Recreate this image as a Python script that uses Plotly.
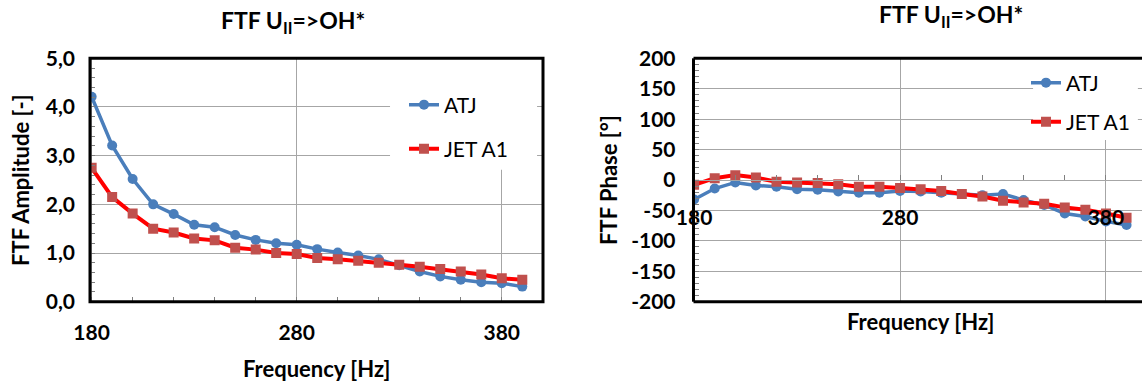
import plotly.graph_objects as go

# ---------------- data ----------------
freq = [180, 190, 200, 210, 220, 230, 240, 250, 260, 270, 280,
        290, 300, 310, 320, 330, 340, 350, 360, 370, 380, 390]
atj_amp = [4.21, 3.21, 2.52, 2.00, 1.80, 1.58, 1.53, 1.37, 1.27, 1.20, 1.17,
           1.08, 1.01, 0.95, 0.87, 0.75, 0.62, 0.52, 0.45, 0.40, 0.38, 0.31]
jet_amp = [2.75, 2.15, 1.81, 1.50, 1.42, 1.30, 1.26, 1.11, 1.07, 1.00, 0.98,
           0.90, 0.87, 0.84, 0.80, 0.76, 0.72, 0.67, 0.62, 0.56, 0.48, 0.45]
atj_phase = [-32, -14, -4, -9, -11, -15, -16, -19, -21, -21, -18,
             -19, -21, -23, -25, -23, -33, -41, -55, -60, -68, -74]
jet_phase = [-8, 3, 8, 4, -3, -4, -5, -7, -11, -11, -13,
             -15, -18, -23, -27, -34, -37, -39, -45, -49, -55, -62]

freq_ticks = [180, 280, 380]
freq_ticktext = ["180", "280", "380"]
amp_ticks = [0, 1, 2, 3, 4, 5]
amp_ticktext = ["0,0", "1,0", "2,0", "3,0", "4,0", "5,0"]
phase_ticks = [-200, -150, -100, -50, 0, 50, 100, 150, 200]
phase_ticktext = ["-200", "-150", "-100", "-50", "0", "50", "100", "150", "200"]

series_names = ["ATJ", "JET A1"]
title_text = "FTF U<sub>II</sub>=>OH*"

# ---------------- layout helpers ----------------
W, H = 1142, 383
def px(x):
    return x / W
def py(y):
    return 1 - y / H

FONT = "Lato"
BLUE = "#4a7ebb"
RED_LINE = "#ff0000"
RED_MARK = "#c0504d"
GRID = "#a6a6a6"
TICKC = "#808080"

fig = go.Figure()

def add_series(xa, ya, yvals, name, legend, is_atj):
    if is_atj:
        fig.add_trace(go.Scatter(
            x=freq, y=yvals, name=name, mode="lines+markers",
            xaxis=xa, yaxis=ya, legend=legend,
            line=dict(color=BLUE, width=3.5),
            marker=dict(symbol="circle", size=10, color=BLUE)))
    else:
        fig.add_trace(go.Scatter(
            x=freq, y=yvals, name=name, mode="lines+markers",
            xaxis=xa, yaxis=ya, legend=legend,
            line=dict(color=RED_LINE, width=4),
            marker=dict(symbol="square", size=10, color=RED_MARK)))

add_series("x", "y", atj_amp, series_names[0], "legend", True)
add_series("x", "y", jet_amp, series_names[1], "legend2", False)
add_series("x2", "y2", atj_phase, series_names[0], "legend3", True)
add_series("x2", "y2", jet_phase, series_names[1], "legend4", False)

tickfont = dict(family=FONT, size=21, color="black", weight="bold")

common_x = dict(
    tickmode="array", tickvals=freq_ticks, ticktext=freq_ticktext,
    showgrid=True, gridcolor=GRID, gridwidth=1, zeroline=False,
    ticks="inside", ticklen=5, tickcolor=TICKC, tickwidth=1,
    minor=dict(tickmode="linear", tick0=180, dtick=20, ticks="inside",
               ticklen=5, tickcolor=TICKC, showgrid=False),
    tickfont=tickfont, fixedrange=True, automargin=False,
)

ydom = [py(301.7), py(58.3)]

fig.update_layout(
    width=W, height=H, autosize=False,
    margin=dict(l=0, r=0, t=0, b=0, pad=0, autoexpand=False),
    paper_bgcolor="white", plot_bgcolor="white",
    separators=", ",
    xaxis=dict(domain=[px(90), px(543)], range=[179.2, 400.1], anchor="y",
               showline=False, ticklabelstandoff=16, **common_x),
    yaxis=dict(domain=ydom, range=[0, 5], anchor="x",
               tickmode="array", tickvals=amp_ticks, ticktext=amp_ticktext,
               showgrid=True, gridcolor=GRID, gridwidth=1, zeroline=False,
               ticks="inside", ticklen=5, tickcolor=TICKC,
               minor=dict(tickmode="linear", tick0=0, dtick=0.2, ticks="inside",
                          ticklen=5, tickcolor=TICKC, showgrid=False),
               tickfont=tickfont, ticklabelstandoff=14, showline=False,
               fixedrange=True, automargin=False),
    xaxis2=dict(domain=[px(693.5), 1.0], range=[179.7, 397.5], anchor="free",
                position=py(180), showline=True, linecolor=GRID, linewidth=1,
                ticklabelstandoff=19, **common_x),
    yaxis2=dict(domain=ydom, range=[-200, 200], anchor="x2",
                tickmode="array", tickvals=phase_ticks, ticktext=phase_ticktext,
                showgrid=True, gridcolor=GRID, gridwidth=1, zeroline=False,
                ticks="inside", ticklen=5, tickcolor=TICKC,
                minor=dict(tickmode="linear", tick0=0, dtick=10, ticks="inside",
                           ticklen=5, tickcolor=TICKC, showgrid=False),
                tickfont=tickfont, ticklabelstandoff=17, showline=False,
                fixedrange=True, automargin=False),
    showlegend=True,
)

legfont = dict(family=FONT, size=21, color="black")
def leg(x, y):
    return dict(x=px(x), y=py(y), xanchor="left", yanchor="middle",
                xref="paper", yref="paper",
                bgcolor="rgba(0,0,0,0)", borderwidth=0, font=legfont,
                itemwidth=30, tracegroupgap=0)

fig.update_layout(
    legend=leg(404, 105),
    legend2=leg(404, 149),
    legend3=leg(1026, 83),
    legend4=leg(1026, 122),
)

# white legend backgrounds (between grid and traces)
fig.add_shape(type="rect", xref="x", yref="y", x0=325.5, x1=397.2, y0=2.71, y1=5,
              fillcolor="white", line=dict(width=0), layer="between")
fig.add_shape(type="rect", xref="x2", yref="y2", x0=344.6, x1=395.5, y0=65.7, y1=200,
              fillcolor="white", line=dict(width=0), layer="between")

# plot-area borders
bl = dict(color="black", width=3)
fig.add_shape(type="rect", xref="paper", yref="paper",
              x0=px(90), x1=px(543), y0=py(301.7), y1=py(58.3),
              line=bl, fillcolor="rgba(0,0,0,0)", layer="above")
fig.add_shape(type="line", xref="paper", yref="paper",
              x0=px(693.5), x1=1.0, y0=py(58.3), y1=py(58.3), line=bl, layer="above")
fig.add_shape(type="line", xref="paper", yref="paper",
              x0=px(693.5), x1=1.0, y0=py(301.7), y1=py(301.7), line=bl, layer="above")
fig.add_shape(type="line", xref="paper", yref="paper",
              x0=px(693.5), x1=px(693.5), y0=py(301.7), y1=py(58.3), line=bl, layer="above")

# titles and axis titles
tfont = dict(family=FONT, size=23, color="black", weight="bold")
afont = dict(family=FONT, size=22, color="black", weight="bold")
def ann(text, x, y, font, angle=0):
    fig.add_annotation(text=text, x=px(x), y=py(y), xref="paper", yref="paper",
                       xanchor="center", yanchor="middle", showarrow=False,
                       font=font, textangle=angle)

ann(title_text, 293, 22, tfont)
ann(title_text, 951, 16, tfont)
ann("FTF Amplitude [-]", 20, 180, afont, -90)
ann("Frequency [Hz]", 316, 368, afont)
ann("FTF Phase [°]", 608, 180, afont, -90)
ann("Frequency [Hz]", 920, 321, afont)

fig.write_html("out.html",
               config={"displayModeBar": False},
               post_script="document.body.style.margin='0px';document.body.style.overflow='hidden';")
